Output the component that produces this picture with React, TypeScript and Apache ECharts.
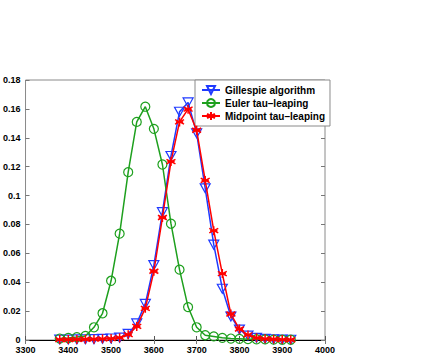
import React, { useEffect, useRef } from "react";
import * as echarts from "echarts";

const xValues = [3380, 3400, 3420, 3440, 3460, 3480, 3500, 3520, 3540, 3560, 3580, 3600, 3620, 3640, 3660, 3680, 3700, 3720, 3740, 3760, 3780, 3800, 3820, 3840, 3860, 3880, 3900, 3920];

const gillespie = [0.0003, 0.0003, 0.0004, 0.0005, 0.0006, 0.0008, 0.001, 0.0016, 0.0042, 0.0115, 0.025, 0.0518, 0.0885, 0.1274, 0.158, 0.1645, 0.1431, 0.105, 0.066, 0.0355, 0.0163, 0.0072, 0.003, 0.0015, 0.0008, 0.0005, 0.0003, 0.0002];

const euler = [0.001, 0.0014, 0.002, 0.0028, 0.0088, 0.0185, 0.041, 0.0736, 0.1162, 0.151, 0.1615, 0.1462, 0.1215, 0.0805, 0.0487, 0.0228, 0.0088, 0.0033, 0.0025, 0.0015, 0.001, 0.0008, 0.0006, 0.0005, 0.0004, 0.0003, 0.0002, 0.0002];

const midpoint = [0.0003, 0.0003, 0.0004, 0.0005, 0.0006, 0.0008, 0.001, 0.0016, 0.0037, 0.0094, 0.0219, 0.0476, 0.0848, 0.1235, 0.151, 0.1598, 0.1452, 0.1105, 0.0757, 0.046, 0.018, 0.0076, 0.0035, 0.0015, 0.0008, 0.0005, 0.0003, 0.0002];

const seriesNames = ["Gillespie algorithm", "Euler tau–leaping", "Midpoint tau–leaping"];

const BLUE = "#1f3aff";
const GREEN = "#1ea01e";
const RED = "#ff0000";
const FONT = "Liberation Sans";

const starPath = "path://M5,0L5,10M0.7,2.5L9.3,7.5M0.7,7.5L9.3,2.5M1.5,5L8.5,5";

export default function App() {
  const ref = useRef<HTMLDivElement>(null);
  useEffect(() => {
    if (!ref.current) return;
    const chart = echarts.init(ref.current, null, { renderer: "svg" });
    const pair = (ys: number[]) => xValues.map((x, i) => [x, ys[i]]);
    const tickAxisCommon = {
      axisTick: { show: true, inside: true, length: 4, lineStyle: { color: "#777", width: 1 } },
      splitLine: { show: false },
      axisLine: { show: false },
    };
    chart.setOption({
      animation: false,
      backgroundColor: "#fff",
      grid: {
        left: 22,
        right: 103,
        top: 80,
        bottom: 14,
        show: true,
        borderColor: "#8a8a8a",
        borderWidth: 1,
        backgroundColor: "transparent",
      },
      legend: {
        show: true,
        orient: "vertical",
        left: 195,
        top: 80,
        width: 130,
        itemWidth: 18,
        itemHeight: 10,
        itemGap: 3,
        padding: [5, 5, 5, 6],
        backgroundColor: "#fff",
        borderColor: "#8a8a8a",
        borderWidth: 1,
        textStyle: { fontFamily: FONT, fontSize: 10, fontWeight: "bold", color: "#000" },
        data: seriesNames,
      },
      xAxis: [
        {
          type: "value",
          min: 3300,
          max: 4000,
          interval: 100,
          position: "bottom",
          axisLine: { show: true, lineStyle: { color: "#000", width: 1 } },
          axisTick: { show: true, inside: true, length: 4, lineStyle: { color: "#555" } },
          splitLine: { show: false },
          axisLabel: {
            fontFamily: FONT,
            fontSize: 9,
            fontWeight: "bold",
            color: "#000",
            margin: 5,
            formatter: (v: number) => String(v),
          },
        },
        {
          type: "value",
          min: 3300,
          max: 4000,
          interval: 100,
          position: "top",
          axisLabel: { show: false },
          ...tickAxisCommon,
        },
      ],
      yAxis: [
        {
          type: "value",
          min: 0,
          max: 0.18,
          interval: 0.02,
          position: "left",
          axisLine: { show: false },
          axisTick: { show: true, inside: true, length: 4, lineStyle: { color: "#777" } },
          splitLine: { show: false },
          axisLabel: {
            fontFamily: FONT,
            fontSize: 9,
            fontWeight: "bold",
            color: "#000",
            margin: 5,
            formatter: (v: number) => String(Math.round(v * 100) / 100),
          },
        },
        {
          type: "value",
          min: 0,
          max: 0.18,
          interval: 0.02,
          position: "right",
          axisLabel: { show: false },
          ...tickAxisCommon,
        },
      ],
      series: [
        {
          name: seriesNames[0],
          type: "line",
          data: pair(gillespie),
          symbol: "triangle",
          symbolRotate: 180,
          symbolSize: [10, 9],
          lineStyle: { color: BLUE, width: 1.5 },
          itemStyle: { color: "rgba(0,0,0,0)", borderColor: BLUE, borderWidth: 1.2 },
          z: 2,
        },
        {
          name: seriesNames[1],
          type: "line",
          data: pair(euler),
          symbol: "circle",
          symbolSize: 9,
          lineStyle: { color: GREEN, width: 1.5 },
          itemStyle: { color: "rgba(0,0,0,0)", borderColor: GREEN, borderWidth: 1.2 },
          z: 3,
        },
        {
          name: seriesNames[2],
          type: "line",
          data: pair(midpoint),
          symbol: starPath,
          symbolSize: 9,
          lineStyle: { color: RED, width: 1.5 },
          itemStyle: { color: "rgba(0,0,0,0)", borderColor: RED, borderWidth: 1.5 },
          z: 4,
        },
      ],
    });
    return () => chart.dispose();
  }, []);
  return (
    <div
      ref={ref}
      style={{ position: "fixed", left: 0, top: 0, width: 428, height: 354, background: "#fff" }}
    />
  );
}
